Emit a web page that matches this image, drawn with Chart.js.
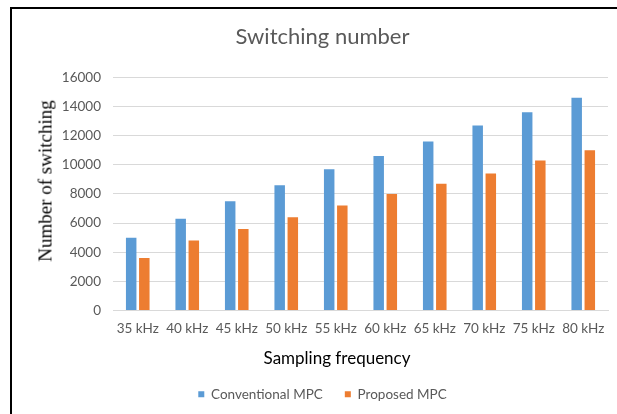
<!DOCTYPE html>
<html>
<head>
<meta charset="utf-8">
<script src="https://cdn.jsdelivr.net/npm/chart.js@4.4.1/dist/chart.umd.min.js"></script>
<style>
  html, body { margin: 0; padding: 0; background: #fff; }
  #wrap { position: relative; width: 617px; height: 414px; overflow: hidden; }
  #frame { position: absolute; left: 10px; top: 7px; width: 700px; height: 500px;
           border-top: 2px solid #000; border-left: 2px solid #000; box-sizing: border-box; }
  #chart { position: absolute; left: 0; top: 0; }
  .axis-title { position: absolute; color: #000; white-space: nowrap; line-height: 1; }
  #x-title { left: 337px; top: 357px; transform: translate(-50%, -50%);
             font-family: Lato, "Open Sans", sans-serif; font-size: 17px; }
  #y-title { left: 45px; top: 181px; transform: translate(-50%, -50%) rotate(-90deg);
             font-family: "Liberation Serif", "Times New Roman", serif; font-size: 19px; }
</style>
</head>
<body>
<div id="wrap">
  <div id="frame"></div>
  <canvas id="chart" width="617" height="414"></canvas>
  <div class="axis-title" id="y-title">Number of switching</div>
  <div class="axis-title" id="x-title">Sampling frequency</div>
</div>
<script>
// Sampling frequencies on the x axis
const categories = ['35 kHz', '40 kHz', '45 kHz', '50 kHz', '55 kHz', '60 kHz', '65 kHz', '70 kHz', '75 kHz', '80 kHz'];
// Switching counts per sampling frequency
const conventionalMPC = [5000, 6300, 7500, 8600, 9700, 10600, 11600, 12700, 13600, 14600];
const proposedMPC = [3600, 4800, 5600, 6400, 7200, 8000, 8700, 9400, 10300, 11000];
// Y axis range
const yMin = 0;
const yMax = 16000;
const yStep = 2000;

const gray = '#595959';
const sans = 'Lato, "Open Sans", sans-serif';

new Chart(document.getElementById('chart'), {
  type: 'bar',
  data: {
    labels: categories,
    datasets: [
      { label: 'Conventional MPC', data: conventionalMPC, backgroundColor: '#5B9BD5' },
      { label: 'Proposed MPC', data: proposedMPC, backgroundColor: '#ED7D31' }
    ]
  },
  options: {
    responsive: false,
    animation: false,
    devicePixelRatio: 1,
    categoryPercentage: 0.53,
    barPercentage: 0.8,
    layout: { padding: { top: 10, left: 37, right: 9, bottom: 3 } },
    plugins: {
      title: {
        display: true,
        text: 'Switching number',
        color: gray,
        font: { family: sans, size: 22, weight: 'normal' },
        padding: { top: 14, bottom: 27 }
      },
      legend: {
        position: 'bottom',
        labels: {
          color: gray,
          font: { family: sans, size: 13.5 },
          boxWidth: 6,
          boxHeight: 6,
          padding: 22
        }
      },
      tooltip: { enabled: false }
    },
    scales: {
      x: {
        grid: { display: false, drawTicks: false },
        border: { display: true, color: '#d9d9d9' },
        ticks: { color: gray, font: { family: sans, size: 13.5 }, padding: 10, maxRotation: 0 },
        afterFit(scale) { scale.height = 55; }
      },
      y: {
        min: yMin,
        max: yMax,
        grid: { color: '#d9d9d9', drawTicks: false },
        border: { display: false },
        ticks: {
          stepSize: yStep,
          color: gray,
          font: { family: sans, size: 13.5 },
          padding: 12,
          callback: (v) => String(v)
        },
        afterFit(scale) { scale.width = 76; }
      }
    }
  }
});
</script>
</body>
</html>
